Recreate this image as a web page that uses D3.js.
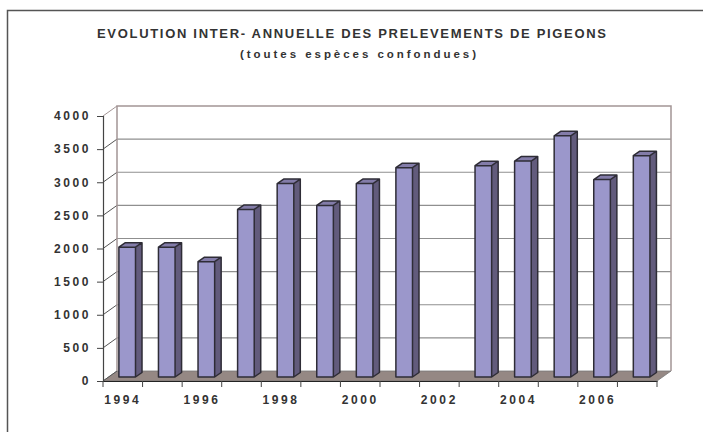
<!DOCTYPE html>
<html lang="fr">
<head>
<meta charset="UTF-8" />
<title>Evolution inter-annuelle des prélèvements de pigeons</title>
<script src="https://d3js.org/d3.v7.js"></script>
<style>
  body { margin: 0; background: #fff; }
  text { font-family: "Liberation Sans", Arial, sans-serif; font-weight: bold; fill: #333; }
</style>
</head>
<body>
<svg id="chart"></svg>
<script>
// data
var years = ["1994", "1995", "1996", "1997", "1998", "1999", "2000",
             "2001", "2002", "2003", "2004", "2005", "2006", "2007"];
var prelevements = [1960, 1960, 1740, 2530, 2920, 2590, 2920,
                    3160, null, 3190, 3260, 3640, 2980, 3340];
var yTicks = [0, 500, 1000, 1500, 2000, 2500, 3000, 3500, 4000];
var xLabels = ["1994", "1996", "1998", "2000", "2002", "2004", "2006"];

var title = "EVOLUTION INTER- ANNUELLE DES PRELEVEMENTS DE PIGEONS";
var subtitle = "(toutes espèces confondues)";

var width = 703, height = 432;

// front plane of the 3d box
var plotLeft = 103, plotRight = 657, plotBottom = 381, plotTop = 116;
var depthX = 14, depthY = -10;       // wall depth
var barShiftX = 5.6, barShiftY = -4; // bars sit a bit behind the front edge
var barDX = 6.5, barDY = -4.5;       // bar thickness

var svg = d3.select("#chart")
    .attr("width", width)
    .attr("height", height);

// outer frame
svg.append("rect")
    .attr("x", 7.5).attr("y", 10.5)
    .attr("width", 720).attr("height", 440)
    .attr("fill", "none")
    .attr("stroke", "#555")
    .attr("stroke-width", 1.5);

svg.append("text")
    .attr("x", 97).attr("y", 37.5)
    .attr("textLength", 509)
    .attr("lengthAdjust", "spacing")
    .style("font-size", "13px")
    .text(title);

svg.append("text")
    .attr("x", 240).attr("y", 58)
    .attr("textLength", 236)
    .attr("lengthAdjust", "spacing")
    .style("font-size", "11.5px")
    .text(subtitle);

var x = d3.scaleBand()
    .domain(years)
    .range([plotLeft, plotRight])
    .padding(0);

var y = d3.scaleLinear()
    .domain([0, 4000])
    .range([plotBottom, plotTop]);

var wallColor = "#a39595";

// floor
svg.append("polygon")
    .attr("points", [
        [plotLeft, plotBottom], [plotRight, plotBottom],
        [plotRight + depthX, plotBottom + depthY], [plotLeft + depthX, plotBottom + depthY]
    ].join(" "))
    .attr("fill", "#958884")
    .attr("stroke", "#777")
    .attr("stroke-width", 0.8);

// back wall gridlines
svg.selectAll(".grid")
    .data(yTicks.filter(function (d) { return d > 0 && d < 4000; }))
    .enter()
    .append("line")
    .attr("class", "grid")
    .attr("x1", plotLeft + depthX)
    .attr("x2", plotRight + depthX)
    .attr("y1", function (d) { return y(d) + depthY; })
    .attr("y2", function (d) { return y(d) + depthY; })
    .attr("stroke", "#8f8f8f")
    .attr("stroke-width", 1.2);

// left wall gridlines (diagonals)
svg.selectAll(".side")
    .data(yTicks)
    .enter()
    .append("line")
    .attr("class", "side")
    .attr("x1", plotLeft)
    .attr("x2", plotLeft + depthX)
    .attr("y1", function (d) { return y(d); })
    .attr("y2", function (d) { return y(d) + depthY; })
    .attr("stroke", function (d) { return d === 4000 ? wallColor : "#555"; })
    .attr("stroke-width", 1);

// back wall frame
svg.append("path")
    .attr("d", d3.line()([
        [plotLeft + depthX, plotBottom + depthY], [plotLeft + depthX, y(4000) + depthY],
        [plotRight + depthX, y(4000) + depthY], [plotRight + depthX, plotBottom + depthY]
    ]))
    .attr("fill", "none")
    .attr("stroke", wallColor)
    .attr("stroke-width", 1.5);

// y axis
var yAxis = svg.append("g")
    .attr("transform", "translate(" + plotLeft + ",0)")
    .call(d3.axisLeft(y).tickValues(yTicks).tickSize(6).tickFormat(d3.format("d")));
yAxis.select(".domain").attr("stroke", "#444").attr("stroke-width", 1.2);
yAxis.selectAll(".tick line").attr("stroke", "#444");
yAxis.selectAll(".tick text")
    .attr("x", -12)
    .style("font-size", "12px")
    .style("letter-spacing", "2.6px")
    .attr("fill", "#333");

// x axis
var xAxis = svg.append("g")
    .attr("transform", "translate(0," + plotBottom + ")")
    .call(d3.axisBottom(x).tickSize(0).tickFormat(function (d) {
        return xLabels.indexOf(d) >= 0 ? d : "";
    }));
xAxis.select(".domain").attr("stroke", "#222").attr("stroke-width", 1.2);
xAxis.selectAll(".tick text")
    .attr("y", 14)
    .style("font-size", "12px")
    .style("letter-spacing", "2.6px")
    .attr("fill", "#333");

// tick marks between the bands
var edges = years.map(function (d) { return x(d); }).concat([plotRight]);
svg.selectAll(".xtick")
    .data(edges)
    .enter()
    .append("line")
    .attr("class", "xtick")
    .attr("x1", function (d) { return d; })
    .attr("x2", function (d) { return d; })
    .attr("y1", plotBottom)
    .attr("y2", plotBottom + 6)
    .attr("stroke", "#444");

// 3d bars
var bw = x.bandwidth() * 0.42;
var inset = x.bandwidth() * 0.26;
var data = years.map(function (d, i) { return { year: d, value: prelevements[i] }; })
    .filter(function (d) { return d.value !== null; });

var bars = svg.selectAll(".bar")
    .data(data)
    .enter()
    .append("g")
    .attr("class", "bar");

function x0(d) { return x(d.year) + inset + barShiftX; }
function yTop(d) { return y(d.value) + barShiftY; }
var yBase = plotBottom + barShiftY;

bars.append("polygon") // side
    .attr("points", function (d) {
        var a = x0(d) + bw;
        return [[a, yBase], [a + barDX, yBase + barDY],
                [a + barDX, yTop(d) + barDY], [a, yTop(d)]].join(" ");
    })
    .attr("fill", "#625b7c");

bars.append("polygon") // top
    .attr("points", function (d) {
        var a = x0(d), t = yTop(d);
        return [[a, t], [a + bw, t], [a + bw + barDX, t + barDY],
                [a + barDX, t + barDY]].join(" ");
    })
    .attr("fill", "#837ca9");

bars.append("rect") // front
    .attr("x", x0)
    .attr("y", yTop)
    .attr("width", bw)
    .attr("height", function (d) { return yBase - yTop(d); })
    .attr("fill", "#9b97cb");

bars.append("path") // outline
    .attr("d", function (d) {
        var a = x0(d), t = yTop(d);
        return "M" + a + "," + yBase + "V" + t +
            "L" + (a + barDX) + "," + (t + barDY) +
            "H" + (a + bw + barDX) +
            "V" + (yBase + barDY) +
            "L" + (a + bw) + "," + yBase + "Z" +
            "M" + a + "," + t + "H" + (a + bw) +
            "L" + (a + bw + barDX) + "," + (t + barDY) +
            "M" + (a + bw) + "," + t + "V" + yBase;
    })
    .attr("fill", "none")
    .attr("stroke", "#2e2c36")
    .attr("stroke-width", 1.5)
    .attr("stroke-linejoin", "round");
</script>
</body>
</html>
